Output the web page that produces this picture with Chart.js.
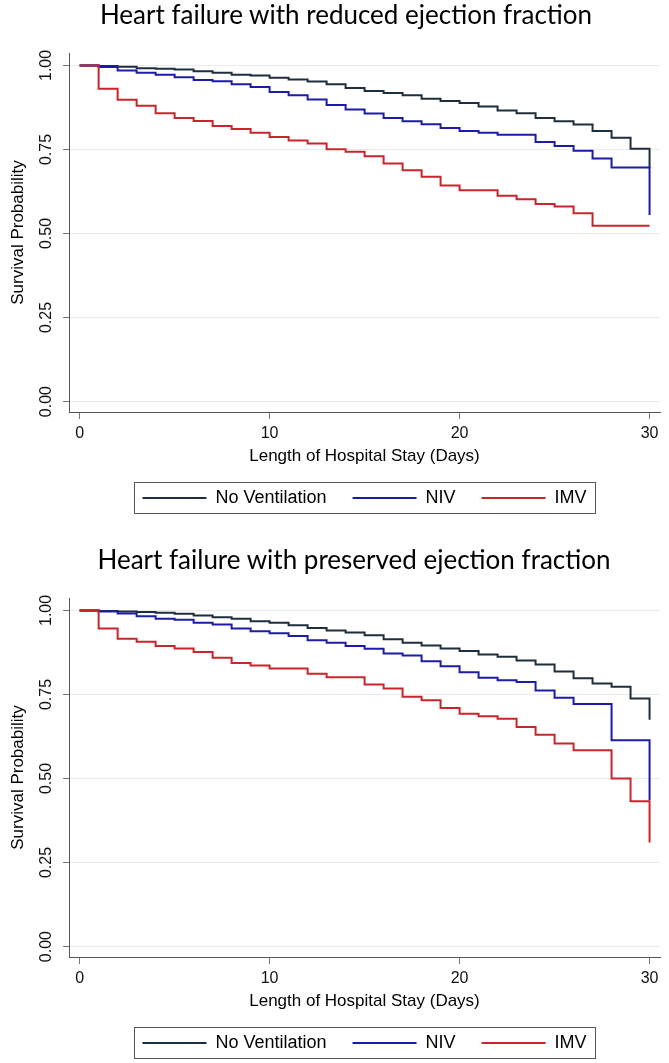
<!DOCTYPE html>
<html>
<head>
<meta charset="utf-8">
<script src="https://cdn.jsdelivr.net/npm/chart.js@4.4.1/dist/chart.umd.min.js"></script>
<style>
  html, body { margin: 0; padding: 0; background: #fff; overflow: hidden; }
  body { width: 669px; height: 1063px; position: relative; }
  .panel { position: absolute; left: 0; width: 669px; height: 545px; }
  .panel canvas { position: absolute; left: 0; top: 0; }
  .titulo { position: absolute; top: -1px; transform: translateX(-50%); white-space: nowrap;
            font-family: Lato, 'Open Sans', sans-serif; font-size: 26px; line-height: 31px; color: #000; }
</style>
</head>
<body>
<div class="panel" style="top:0">
  <canvas id="chart-ref" width="669" height="545"></canvas>
  <div class="titulo" style="left:346px">Heart failure with reduced ejection fraction</div>
</div>
<div class="panel" style="top:545px">
  <canvas id="chart-pef" width="669" height="545"></canvas>
  <div class="titulo" style="left:354px">Heart failure with preserved ejection fraction</div>
</div>
<script>
const days = [0, 1, 2, 3, 4, 5, 6, 7, 8, 9, 10, 11, 12, 13, 14, 15, 16, 17, 18, 19, 20, 21, 22, 23, 24, 25, 26, 27, 28, 29, 30];
const xTicks = [0, 10, 20, 30];
const yTicks = [0, 0.25, 0.5, 0.75, 1];
const seriesNames = ['No Ventilation', 'NIV', 'IMV'];
const seriesColors = ['#1f2e3d', '#1c1ca6', '#c9252c'];

// HFrEF
const refNoVent = [1, 0.998, 0.996, 0.992, 0.990, 0.988, 0.983, 0.978, 0.972, 0.970, 0.963, 0.958, 0.952, 0.944, 0.933, 0.924,
  0.918, 0.911, 0.901, 0.894, 0.888, 0.878, 0.866, 0.858, 0.844, 0.834, 0.824, 0.805, 0.785, 0.752, 0.696];
const refNiv = [1, 0.995, 0.985, 0.978, 0.972, 0.965, 0.957, 0.953, 0.944, 0.936, 0.921, 0.911, 0.899, 0.882, 0.869, 0.857,
  0.844, 0.834, 0.825, 0.814, 0.805, 0.800, 0.794, 0.794, 0.772, 0.760, 0.746, 0.723, 0.696, 0.696, 0.555];
const refImv = [1, 0.931, 0.898, 0.880, 0.858, 0.844, 0.835, 0.820, 0.811, 0.800, 0.787, 0.777, 0.768, 0.751, 0.743, 0.730,
  0.708, 0.688, 0.669, 0.643, 0.629, 0.629, 0.612, 0.602, 0.588, 0.580, 0.560, 0.523, 0.523, 0.523, 0.523];

// HFpEF
const pefNoVent = [1, 0.998, 0.997, 0.995, 0.993, 0.990, 0.985, 0.980, 0.975, 0.968, 0.963, 0.956, 0.948, 0.940, 0.934, 0.926,
  0.914, 0.904, 0.896, 0.887, 0.879, 0.869, 0.862, 0.851, 0.839, 0.818, 0.798, 0.783, 0.773, 0.738, 0.675];
const pefNiv = [1, 0.997, 0.991, 0.983, 0.975, 0.972, 0.963, 0.958, 0.946, 0.938, 0.932, 0.924, 0.911, 0.904, 0.894, 0.886,
  0.872, 0.866, 0.849, 0.834, 0.816, 0.800, 0.792, 0.787, 0.762, 0.740, 0.722, 0.722, 0.614, 0.614, 0.435];
const pefImv = [1, 0.946, 0.916, 0.907, 0.894, 0.887, 0.876, 0.859, 0.844, 0.836, 0.827, 0.827, 0.812, 0.801, 0.801, 0.780,
  0.768, 0.743, 0.733, 0.710, 0.693, 0.685, 0.678, 0.653, 0.630, 0.604, 0.584, 0.584, 0.500, 0.432, 0.310];

Chart.defaults.font.family = "'Liberation Sans', Arial, sans-serif";
Chart.defaults.color = '#111';

const legendBorder = {
  id: 'legendBorder',
  afterDraw(chart) {
    const boxes = chart.legend.legendHitBoxes;
    if (!boxes || !boxes.length) return;
    const left = Math.min(...boxes.map(b => b.left)) - 8;
    const right = Math.max(...boxes.map(b => b.left + b.width)) + 9;
    const top = boxes[0].top - 7;
    const bottom = boxes[0].top + boxes[0].height + 6;
    const ctx = chart.ctx;
    ctx.save();
    ctx.strokeStyle = '#555';
    ctx.lineWidth = 1;
    ctx.strokeRect(Math.round(left) + 0.5, Math.round(top) + 0.5, Math.round(right - left), Math.round(bottom - top));
    ctx.restore();
  }
};

function toPoints(values) {
  return days.map((d, i) => ({ x: d, y: values[i] }));
}

function createChart(id, series) {
  const datasets = series.map((values, i) => ({
    label: seriesNames[i],
    data: toPoints(values),
    borderColor: seriesColors[i],
    backgroundColor: seriesColors[i],
    borderWidth: 2,
    pointRadius: 0,
    stepped: 'before',
    fill: false,
    order: series.length - 1 - i
  }));

  return new Chart(document.getElementById(id), {
    type: 'line',
    data: { datasets },
    plugins: [legendBorder],
    options: {
      responsive: false,
      animation: false,
      layout: { padding: { top: 53, right: 9, bottom: 28, left: 0 } },
      plugins: {
        tooltip: { enabled: false },
        legend: {
          position: 'bottom',
          fullSize: false,
          labels: {
            boxWidth: 64,
            boxHeight: 2,
            padding: 26,
            color: '#000',
            font: { size: 18 },
            sort: (a, b) => a.datasetIndex - b.datasetIndex,
            generateLabels(chart) {
              return Chart.defaults.plugins.legend.labels.generateLabels(chart)
                .map(item => ({ ...item, fillStyle: item.strokeStyle, lineWidth: 0 }));
            }
          }
        }
      },
      scales: {
        x: {
          type: 'linear',
          min: -0.56,
          max: 30.55,
          afterBuildTicks: s => { s.ticks = xTicks.map(v => ({ value: v })); },
          afterFit: s => { s.height = 51; },
          ticks: { font: { size: 16 }, padding: 5, maxRotation: 0, autoSkip: false },
          grid: { drawOnChartArea: false, tickLength: 7, color: '#777' },
          border: { color: '#555', width: 1 },
          title: {
            display: true,
            text: 'Length of Hospital Stay (Days)',
            font: { size: 17 },
            color: '#000',
            padding: { top: 0, bottom: -4 }
          }
        },
        y: {
          min: -0.031,
          max: 1.037,
          afterBuildTicks: s => { s.ticks = yTicks.map(v => ({ value: v })); },
          afterFit: s => { s.width = 69; },
          ticks: {
            font: { size: 16 },
            padding: 1,
            minRotation: 90,
            maxRotation: 90,
            crossAlign: 'center',
            callback: v => v.toFixed(2)
          },
          grid: { color: '#ebebeb', tickColor: '#777', tickLength: 6 },
          border: { color: '#555', width: 1 },
          title: {
            display: true,
            text: 'Survival Probability',
            font: { size: 17 },
            color: '#000',
            padding: { top: 8, bottom: 0 }
          }
        }
      }
    }
  });
}

createChart('chart-ref', [refNoVent, refNiv, refImv]);
createChart('chart-pef', [pefNoVent, pefNiv, pefImv]);
</script>
</body>
</html>
